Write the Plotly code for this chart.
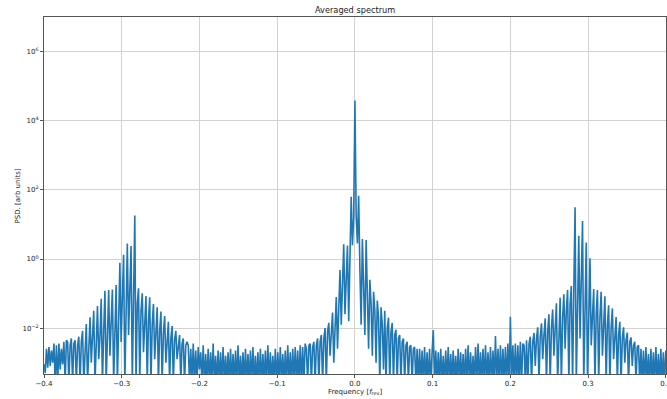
import numpy as np
import plotly.graph_objects as go

# Frequency bins (units of f_rev): uniform grid from -0.4 to 0.4
F_START = -0.4
F_STEP = 0.0016

# log10(PSD), segment by segment (values below -3.33 fall under the axis)
left_floor = [-3.05, -3.3, -2.6, -3.15, -2.55, -3.1, -2.65, -3.0, -2.45, -3.6,
              -2.5, -3.6, -2.45, -3.2, -2.6, -3.05, -2.4, -3.6, -2.35, -2.4,
              -3.6, -2.5, -2.3, -3.6, -2.45]

left_sideband = [-2.35, -3.6, -2.5, -2.25, -3.6, -2.4, -2.08, -3.6, -2.45, -1.88,
                 -3.6, -2.35, -1.69, -3.0, -2.3, -1.50, -3.6, -2.2, -1.36, -2.9,
                 -2.25, -1.15, -3.6, -2.1, -0.92, -3.6, -2.0, -0.90, -2.8, -1.9,
                 -0.88, -3.6, -1.8, -0.75, -3.6, -1.5, -0.11, -2.4, -1.2, 0.12,
                 -3.6, -1.0, 0.45, -2.2, -0.8, 0.38, -3.6, -0.6, 1.26, -3.6,
                 -1.3, -0.85, -3.6, -1.5, -0.99, -2.7, -1.7, -1.07, -3.6, -1.8,
                 -1.11, -3.6, -1.9, -1.30, -2.9, -2.0, -1.40, -3.6, -2.1, -1.52,
                 -3.6, -2.15, -1.65, -3.0, -2.2, -1.82, -3.6, -2.3, -1.94, -3.6,
                 -2.35, -2.08, -2.9, -2.4, -2.2, -3.6, -2.45, -2.3, -3.6, -2.5,
                 -2.4]

mid_floor_left = [-2.5, -3.6, -2.6, -3.6, -2.45, -3.6, -2.65, -3.6, -2.55, -3.2,
                  -2.7, -3.6, -2.5, -3.6, -2.75, -3.6, -2.6, -3.6, -2.7, -3.6,
                  -2.45, -3.6, -2.8, -3.6, -2.65, -3.6, -2.7, -3.6, -2.55, -3.6,
                  -2.8, -3.6, -2.7, -3.6, -2.6, -3.6, -2.75, -3.6, -2.65, -3.6,
                  -2.5, -3.6, -2.8, -3.6, -2.7, -3.6, -2.6, -3.6, -2.75, -3.6,
                  -2.65, -3.6, -2.55, -3.6, -2.8, -3.6, -2.7, -3.6, -2.6, -3.6,
                  -2.75, -3.6, -2.65, -3.6, -2.5, -3.6, -2.7, -3.6, -2.8, -3.6,
                  -2.6, -3.6, -2.7, -3.6, -2.55, -3.6, -2.75, -3.6, -2.65, -3.6,
                  -2.5, -3.6, -2.7, -3.6, -2.6, -3.6, -2.55, -3.6, -2.65, -3.6,
                  -2.5, -3.6, -2.55, -3.6, -2.45]

central_peak = [-2.6, -3.6, -2.5, -2.45, -3.6, -2.55, -2.4, -3.6, -2.5, -2.3,
                -3.6, -2.4, -2.2, -3.6, -2.3, -2.0, -3.6, -2.1, -1.85, -2.8,
                -2.0, -1.55, -3.0, -1.7, -1.1, -2.6, -1.4, -0.32, -1.9, -1.0,
                0.43, -1.6, -0.6, 0.39, -1.8, -0.2, 1.80, 0.4, 1.2, 4.59,
                1.25, 0.45, 1.83, -0.3, -1.9, 0.58, -0.5, -2.2, 0.55, -1.0,
                -2.6, -0.6, -1.3, -2.8, -0.95, -1.5, -3.0, -1.2, -1.7, -3.6,
                -1.4, -1.9, -3.2, -1.5, -3.6, -2.0, -1.7, -3.6, -2.1, -1.85,
                -3.6, -2.2, -2.05, -3.6, -2.3, -2.2, -3.6, -2.4, -2.3, -3.6,
                -2.5, -2.4, -3.6, -2.55, -2.5, -3.6, -2.6, -2.55, -3.6, -2.6]

mid_floor_right = [-3.6, -2.6, -3.6, -2.65, -3.6, -2.55, -3.6, -2.7, -3.6, -2.6,
                   -3.6, -2.75, -2.06, -3.6, -2.65, -3.6, -2.7, -3.6, -2.6, -3.6,
                   -2.8, -3.6, -2.65, -3.6, -2.55, -3.6, -2.75, -3.6, -2.65, -3.6,
                   -2.8, -3.6, -2.6, -3.6, -2.7, -3.6, -2.75, -3.6, -2.6, -3.6,
                   -2.5, -3.6, -2.7, -3.6, -2.8, -3.6, -2.55, -3.6, -2.45, -3.6,
                   -2.7, -3.6, -2.6, -3.6, -2.5, -3.6, -2.7, -3.6, -2.55, -3.6,
                   -2.65, -3.6, -2.23, -3.6, -2.6, -3.6, -2.5, -3.6, -2.6, -3.6,
                   -2.55, -3.6, -2.45, -3.6, -1.67, -3.6, -2.5, -3.6, -2.45, -3.6,
                   -2.5, -3.6, -2.4, -3.6, -2.45]

right_sideband = [-2.5, -3.6, -2.35, -3.6, -2.45, -2.25, -3.6, -2.4, -2.14, -3.1,
                  -2.3, -1.98, -3.6, -2.25, -1.86, -2.9, -2.2, -1.72, -3.6, -2.1,
                  -1.60, -3.6, -2.0, -1.46, -2.8, -1.95, -1.28, -3.6, -1.85, -1.12,
                  -3.6, -1.7, -1.02, -2.6, -1.5, -0.90, -3.6, -1.3, -0.78, -3.6,
                  -0.9, 1.5, -3.6, -0.7, 0.675, -2.3, -0.5, 1.10, -3.6, -0.9,
                  0.48, -3.6, -1.1, 0.02, -2.5, -1.4, -0.87, -3.6, -1.6, -0.90,
                  -3.6, -1.7, -0.95, -2.8, -1.8, -1.08, -3.6, -1.9, -1.34, -3.6,
                  -2.0, -1.43, -2.9, -2.1, -1.68, -3.6, -2.2, -1.82, -3.6, -2.3,
                  -1.98, -3.0, -2.35, -2.13, -3.6, -2.4, -2.27, -3.1, -2.5, -2.4,
                  -3.6, -2.55, -2.5, -3.6, -2.6]

right_floor = [-3.6, -2.65, -3.6, -2.55, -3.6, -2.75, -3.6, -2.6, -3.6, -2.7,
               -3.6, -2.55, -3.6, -2.75, -3.6, -2.6, -3.6, -2.7, -3.6, -2.65]

log_psd = np.array(left_floor + left_sideband + mid_floor_left + central_peak
                   + mid_floor_right + right_sideband + right_floor)
freq = F_START + F_STEP * np.arange(len(log_psd))
psd = 10.0 ** log_psd

x_ticks = [-0.4, -0.3, -0.2, -0.1, 0.0, 0.1, 0.2, 0.3, 0.4]
x_ticklabels = ["\u22120.4", "\u22120.3", "\u22120.2", "\u22120.1", "0.0", "0.1", "0.2", "0.3", "0.4"]
y_ticks = [1e-2, 1e0, 1e2, 1e4, 1e6]
y_ticklabels = ["10<sup>\u22122</sup>", "10<sup>0</sup>", "10<sup>2</sup>", "10<sup>4</sup>", "10<sup>6</sup>"]

FONT = "DejaVu Sans"
TXT = "#1a1a1a"
GRID = "#d2d2d2"
SPINE = "#555555"

fig = go.Figure(go.Scatter(x=freq, y=psd, mode="lines",
                           line=dict(color="#1f77b4", width=1.6),
                           hoverinfo="skip"))

axis_common = dict(showgrid=True, gridcolor=GRID, gridwidth=1, zeroline=False,
                   showline=True, mirror=True, linecolor=SPINE, linewidth=1,
                   ticks="outside", ticklen=3, tickcolor=SPINE,
                   ticklabeloverflow="allow", automargin=False,
                   tickfont=dict(family=FONT, size=7, color=TXT))

fig.update_layout(
    width=667, height=399, autosize=False,
    margin=dict(l=44, r=1, t=17, b=25, pad=0, autoexpand=False),
    paper_bgcolor="white", plot_bgcolor="white",
    showlegend=False,
    xaxis=dict(range=[-0.4, 0.4002], tickmode="array", tickvals=x_ticks,
               ticktext=x_ticklabels, **axis_common),
    yaxis=dict(type="log", range=[-3.33, 7.01], tickmode="array",
               tickvals=y_ticks, ticktext=y_ticklabels, **axis_common),
    annotations=[
        dict(text="Averaged spectrum", x=0.5, y=(374 - 10) / 357, xref="paper", yref="paper",
             xanchor="center", yanchor="middle", showarrow=False,
             font=dict(family=FONT, size=8.2, color=TXT)),
        dict(text="Frequency [<i>f</i><sub>rev</sub>]", x=0.5, y=(374 - 392) / 357,
             xref="paper", yref="paper", xanchor="center", yanchor="middle",
             showarrow=False, font=dict(family=FONT, size=7, color=TXT)),
        dict(text="PSD. [arb units]", x=(17 - 44) / 622, y=0.5, xref="paper", yref="paper",
             xanchor="center", yanchor="middle", textangle=-90, showarrow=False,
             font=dict(family=FONT, size=7, color=TXT)),
    ],
)

fig.write_html("out.html")
